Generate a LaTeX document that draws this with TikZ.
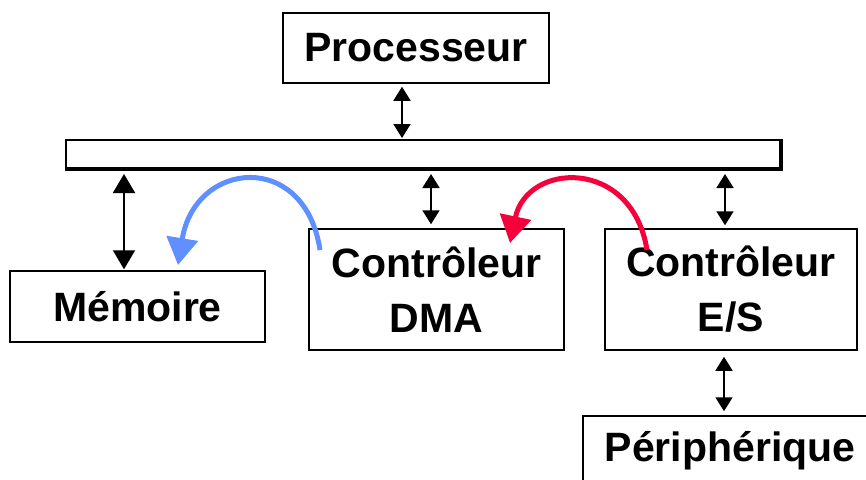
\documentclass[tikz,border=0pt]{standalone}
\usepackage{fontspec}
\setmainfont{Liberation Sans}
\usetikzlibrary{arrows.meta}
\definecolor{dmablue}{HTML}{6090FF}
\definecolor{esred}{HTML}{F5003A}
\begin{document}
\begin{tikzpicture}[x=1pt,y=-1pt,
  box/.style={draw,line width=1.5pt,inner sep=0pt,align=center,
    font=\fontsize{41}{55}\selectfont\bfseries},
  link/.style={line width=1.8pt,
    {Triangle[length=14pt,width=17pt]}-{Triangle[length=14pt,width=17pt]}},
  biglink/.style={line width=2pt,
    {Triangle[length=19pt,width=22pt]}-{Triangle[length=19pt,width=22pt]}},
  flow/.style={line width=5pt,-{Triangle[length=27pt,width=31pt]}}]
\useasboundingbox (0,0) rectangle (866,479);
\clip (0,0) rectangle (866,479);

% units and the bus
\node[box,minimum width=266pt,minimum height=70pt] (proc) at (416,48) {Processeur};
\node[draw,line width=2pt,minimum width=714pt,minimum height=28pt,inner sep=0pt] (bus) at (423,154) {};
\draw[line width=3.5pt] (bus.south west) -- (bus.south east) -- (bus.north east);
\node[box,minimum width=255pt,minimum height=71pt] (mem) at (137.5,306.5) {Mémoire};
\node[box,minimum width=255pt,minimum height=121pt] (dma) at (436.5,289.5) {Contrôleur\\DMA};
\node[box,minimum width=252pt,minimum height=121pt] (es) at (731,289.5) {Contrôleur\\E/S};
\node[box,minimum width=294pt,minimum height=70pt] (per) at (730,451) {Périphérique};

% columns of the bus links
\coordinate (xp) at (402,0);
\coordinate (xm) at (124,0);
\coordinate (xd) at (431,0);
\coordinate (xe) at (725,0);
\coordinate (xq) at (724,0);

\draw[link,shorten <=3pt,shorten >=1pt] (proc.south -| xp) -- (bus.north -| xp);
\draw[biglink,shorten <=5pt,shorten >=1pt] (bus.south -| xm) -- (mem.north -| xm);
\draw[link,shorten <=5pt,shorten >=4pt] (bus.south -| xd) -- (dma.north -| xd);
\draw[link,shorten <=5pt,shorten >=3pt] (bus.south -| xe) -- (es.north -| xe);
\draw[link,shorten <=6pt,shorten >=4pt] (es.south -| xq) -- (per.north -| xq);

% transfer arrows
\coordinate (b0) at (320,250);
\coordinate (b1) at (178,265);
\draw[flow,dmablue] (b0) .. controls (305,150) and (195,160) .. (b1);
\coordinate (r0) at (647,250);
\coordinate (r1) at (510,243);
\draw[flow,esred] (r0) .. controls (632,157) and (527,162) .. (r1);
\end{tikzpicture}
\end{document}
